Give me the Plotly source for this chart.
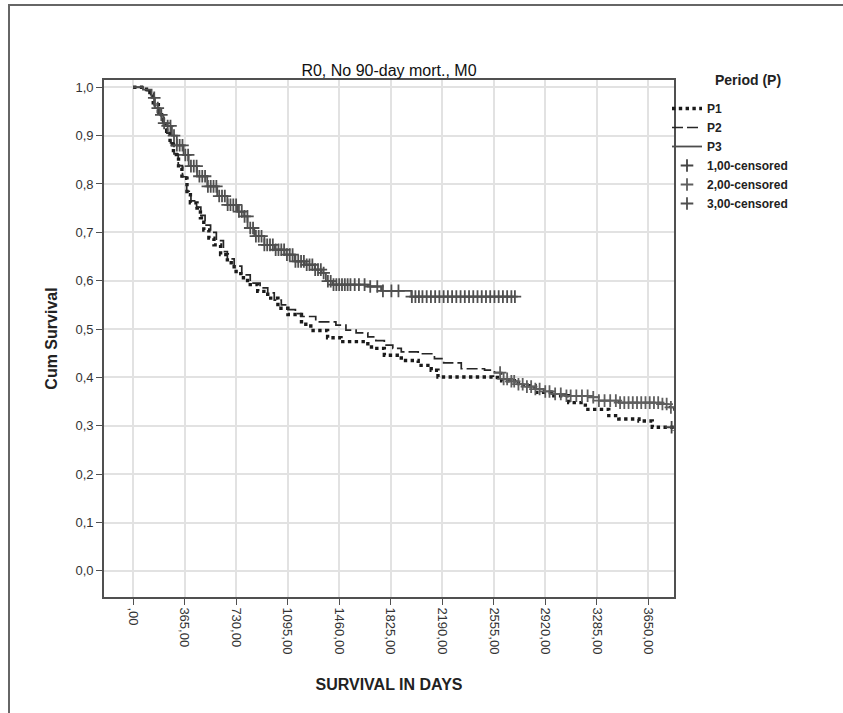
import plotly.graph_objects as go
import bisect

# ---------------- data ----------------
p1_days = [0, 95, 119, 143, 179, 215, 238, 262, 286, 322, 346, 382, 406, 453, 477, 501, 537, 573, 620,
           668, 716, 763, 811, 883, 954, 1026, 1097, 1193, 1259, 1378, 1473, 1663, 1710, 1780, 1900, 2020,
           2112, 2160, 2547, 2611, 2730, 2848, 2967, 3086, 3204, 3370, 3441, 3584, 3678, 3832]
p1_surv = [1.0, 0.995, 0.985, 0.964, 0.943, 0.923, 0.909, 0.881, 0.861, 0.833, 0.812, 0.778, 0.761, 0.75,
           0.73, 0.705, 0.688, 0.674, 0.654, 0.637, 0.619, 0.606, 0.592, 0.578, 0.564, 0.543, 0.53, 0.51,
           0.497, 0.482, 0.474, 0.463, 0.46, 0.446, 0.435, 0.425, 0.415, 0.401, 0.40, 0.393, 0.383, 0.369,
           0.362, 0.348, 0.334, 0.321, 0.314, 0.31, 0.297, 0.29]

p2_days = [0, 100, 125, 150, 180, 210, 240, 265, 290, 320, 350, 380, 410, 450, 480, 510, 549, 590, 640,
           668, 716, 770, 830, 900, 954, 1000, 1050, 1097, 1150, 1188, 1294, 1437, 1508, 1580, 1663, 1720,
           1780, 1840, 1900, 2020, 2135, 2200, 2325, 2490, 2560, 2611, 2670, 2730, 2790, 2848, 2910, 2967,
           3062, 3251, 3299, 3441, 3750, 3800, 3832]
p2_surv = [1.0, 0.993, 0.98, 0.962, 0.945, 0.925, 0.905, 0.885, 0.862, 0.838, 0.815, 0.785, 0.765, 0.752,
           0.735, 0.715, 0.70, 0.683, 0.66, 0.645, 0.63, 0.612, 0.595, 0.585, 0.575, 0.56, 0.55, 0.54,
           0.532, 0.526, 0.515, 0.508, 0.498, 0.492, 0.484, 0.476, 0.467, 0.46, 0.453, 0.449, 0.439, 0.43,
           0.418, 0.415, 0.41, 0.397, 0.392, 0.386, 0.381, 0.376, 0.371, 0.366, 0.362, 0.359, 0.352, 0.348,
           0.345, 0.338, 0.331]

p3_days = [0, 70, 131, 155, 190, 215, 238, 275, 310, 358, 394, 453, 525, 596, 668, 740, 787, 811, 859,
           930, 1002, 1073, 1145, 1216, 1288, 1336, 1366, 1413, 1663, 1757, 1971, 2706]
p3_surv = [1.0, 0.995, 0.978, 0.957, 0.943, 0.926, 0.92, 0.90, 0.88, 0.86, 0.837, 0.816, 0.795, 0.775,
           0.757, 0.743, 0.733, 0.709, 0.692, 0.674, 0.664, 0.654, 0.64, 0.633, 0.623, 0.616, 0.599, 0.592,
           0.588, 0.579, 0.567, 0.567]

p1_censored_days = [3815]
p2_censored_days = [2600, 2625, 2650, 2680, 2700, 2730, 2760, 2790, 2820, 2850, 2880, 2920, 2950, 2990,
                    3030, 3070, 3100, 3140, 3180, 3220, 3260, 3300, 3340, 3380, 3420, 3450, 3480, 3510,
                    3540, 3570, 3600, 3630, 3660, 3690, 3720, 3750, 3780, 3810]
p3_censored_days = [150, 175, 200, 220, 245, 265, 290, 310, 330, 350, 370, 390, 410, 430, 450, 470, 490,
                    510, 530, 550, 570, 590, 610, 630, 650, 670, 690, 710, 730, 750, 770, 790, 810, 830,
                    850, 870, 890, 910, 930, 950, 970, 990, 1010, 1030, 1050, 1070, 1090, 1110, 1130,
                    1150, 1170, 1190, 1210, 1230, 1250, 1270, 1290, 1310, 1330, 1350, 1380, 1400, 1420,
                    1440, 1460, 1480, 1500, 1520, 1540, 1570, 1600, 1640, 1680, 1730, 1770, 1830, 1880,
                    1975, 2000, 2025, 2050, 2080, 2110, 2140, 2170, 2200, 2230, 2260, 2290, 2320, 2350,
                    2380, 2410, 2440, 2470, 2500, 2530, 2560, 2590, 2620, 2650, 2680, 2705]

x_tickvals = [0, 365, 730, 1095, 1460, 1825, 2190, 2555, 2920, 3285, 3650]
x_ticktext = [",00", "365,00", "730,00", "1095,00", "1460,00", "1825,00", "2190,00", "2555,00",
              "2920,00", "3285,00", "3650,00"]
y_tickvals = [0.0, 0.1, 0.2, 0.3, 0.4, 0.5, 0.6, 0.7, 0.8, 0.9, 1.0]
y_ticktext = ["0,0", "0,1", "0,2", "0,3", "0,4", "0,5", "0,6", "0,7", "0,8", "0,9", "1,0"]


def surv_at(t, days, surv):
    i = bisect.bisect_right(days, t) - 1
    return surv[max(i, 0)]


FONT = "Liberation Sans, Arial, sans-serif"

fig = go.Figure()

fig.add_trace(go.Scatter(x=p1_days, y=p1_surv, mode="lines", name="P1", line_shape="hv",
                         line=dict(color="#1a1a1a", width=3.4, dash="dot")))
fig.add_trace(go.Scatter(x=p2_days, y=p2_surv, mode="lines", name="P2", line_shape="hv",
                         line=dict(color="#262626", width=1.7, dash="11px,4px")))
fig.add_trace(go.Scatter(x=p3_days, y=p3_surv, mode="lines", name="P3", line_shape="hv",
                         line=dict(color="#4d4d4d", width=1.8)))

for name, cd, days, surv, col in [
    ("1,00-censored", p1_censored_days, p1_days, p1_surv, "#444444"),
    ("2,00-censored", p2_censored_days, p2_days, p2_surv, "#5e5e5e"),
    ("3,00-censored", p3_censored_days, p3_days, p3_surv, "#4f4f4f"),
]:
    fig.add_trace(go.Scatter(x=cd, y=[surv_at(t, days, surv) for t in cd], mode="markers", name=name,
                             marker=dict(symbol="cross-thin", size=9,
                                         line=dict(color=col, width=1.8), color=col)))

axis_common = dict(showline=True, linecolor="#505050", linewidth=1.6, mirror=True,
                   ticks="outside", ticklen=6, tickcolor="#505050", tickwidth=1.2,
                   showgrid=True, gridcolor="#e2e2e2", gridwidth=1.5, zeroline=False,
                   tickfont=dict(family=FONT, size=13, color="#333333"))

fig.update_xaxes(range=[-206, 3832], tickvals=x_tickvals, ticktext=x_ticktext, tickangle=90,
                 title=dict(text="<b>SURVIVAL IN DAYS</b>", font=dict(family=FONT, size=16, color="#222"),
                            standoff=25),
                 **axis_common)
fig.update_yaxes(range=[-0.054, 1.015], tickvals=y_tickvals, ticktext=y_ticktext,
                 title=dict(text="<b>Cum Survival</b>", font=dict(family=FONT, size=16, color="#222"),
                            standoff=14),
                 **axis_common)

fig.update_layout(
    width=843, height=713,
    margin=dict(l=104, r=169, t=80, b=116),
    paper_bgcolor="white", plot_bgcolor="white",
    title=dict(text="R0, No 90-day mort., M0", x=(104 + 674) / 2 / 843, xanchor="center",
               y=1 - 70 / 713, yanchor="middle", font=dict(family=FONT, size=16, color="#111")),
    legend=dict(x=(667 - 104) / 570, xanchor="left", y=(597 - 94) / 517, yanchor="top",
                font=dict(family=FONT, size=12, color="#222", weight="bold"),
                itemwidth=30, tracegroupgap=0, bgcolor="rgba(0,0,0,0)"),
    annotations=[dict(text="<b>Period (P)</b>", xref="paper", yref="paper",
                      x=(748 - 104) / 570, y=(597 - 80) / 517, xanchor="center", yanchor="middle",
                      showarrow=False, font=dict(family=FONT, size=14, color="#222"))],
    shapes=[
        dict(type="line", xref="paper", yref="paper", x0=(9 - 104) / 570, x1=(9 - 104) / 570,
             y0=(597 - 4) / 517, y1=(597 - 720) / 517, line=dict(color="#666666", width=2)),
        dict(type="line", xref="paper", yref="paper", x0=(9 - 104) / 570, x1=(850 - 104) / 570,
             y0=(597 - 5) / 517, y1=(597 - 5) / 517, line=dict(color="#666666", width=2)),
    ],
    showlegend=True,
)

fig.write_html("out.html", config={"displayModeBar": False},
               post_script="document.body.style.margin='0';")
